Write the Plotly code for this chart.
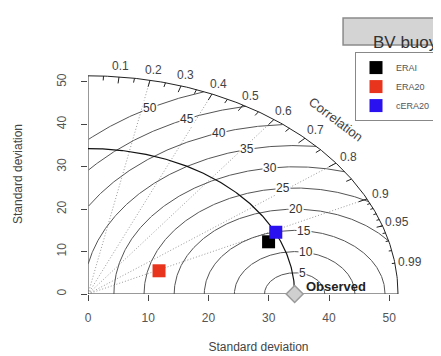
import numpy as np
import plotly.graph_objects as go

# ---- data ----
models = ["ERAI", "ERA20", "cERA20"]
model_sd = [32.4, 13.0, 34.4]
model_cor = [0.925, 0.907, 0.906]
model_colors = ["#000000", "#e8341c", "#2a12f0"]
obs_sd = 34.3
title_text = "BV buoy"
axis_ticks = [0, 10, 20, 30, 40, 50]
gamma = [5, 10, 15, 20, 25, 30, 35, 40, 45, 50]
big_ticks = [0.1, 0.2, 0.3, 0.4, 0.5, 0.6, 0.7, 0.8, 0.9]
cor_labels = [0.1, 0.2, 0.3, 0.4, 0.5, 0.6, 0.7, 0.8, 0.9, 0.95, 0.99]
med_ticks = [0.05, 0.15, 0.25, 0.35, 0.45, 0.55, 0.65, 0.75, 0.85, 0.95]
sml_ticks = [0.91, 0.92, 0.93, 0.94, 0.95, 0.96, 0.97, 0.98, 0.99]
grad_corr_lines = [0.2, 0.4, 0.6, 0.8, 0.9]

maxsd = 1.5 * max(model_sd[0], obs_sd)
maxray = maxsd
FONT = "Liberation Sans, Arial, sans-serif"

fig = go.Figure()

def add_line(x, y, color, width=1, dash=None):
    fig.add_trace(go.Scatter(x=x, y=y, mode="lines", showlegend=False, hoverinfo="skip",
                             line=dict(color=color, width=width, dash=dash)))

# correlation dotted lines
for g in grad_corr_lines:
    add_line([0, maxray * g], [0, maxray * np.sqrt(1 - g * g)], "#9a9a9a", 1, "1px,2px")

# axes segments
add_line([0, maxray], [0, 0], "#333333", 1)
add_line([0, 0], [0, maxray], "#333333", 1)

# centred RMS arcs
t = np.linspace(0, np.pi, 600)
labelpos = np.linspace(45, 70, len(gamma))
for i, g in enumerate(gamma):
    xc = np.cos(t) * g + obs_sd
    yc = np.sin(t) * g
    m = (xc >= 0) & (xc * xc + yc * yc <= maxray * maxray)
    add_line(xc[m], yc[m], "#555555", 1)
    ang = (int(labelpos[i]) - 1) * 0.03
    lx = np.cos(ang) * g + obs_sd
    ly = np.sin(ang) * g
    if lx > 0:
        fig.add_annotation(x=lx, y=ly, text=str(g), showarrow=False, bgcolor="white",
                           font=dict(family=FONT, size=12, color="#333"), borderpad=0)

# outer arc
ta = np.linspace(0, np.pi / 2, 200)
add_line(np.cos(ta) * maxray, np.sin(ta) * maxray, "#222222", 1)
# reference sd arc
add_line(np.cos(ta) * obs_sd, np.sin(ta) * obs_sd, "#111111", 1.2)

# ticks on outer arc
for vals, f in [(big_ticks, 0.97), (med_ticks, 0.98), (sml_ticks, 0.99)]:
    xs, ys = [], []
    for c in vals:
        a = np.arccos(c)
        xs += [np.cos(a) * maxray, np.cos(a) * f * maxray, None]
        ys += [np.sin(a) * maxray, np.sin(a) * f * maxray, None]
    add_line(xs, ys, "#222222", 1)

for c in cor_labels:
    a = np.arccos(c)
    fig.add_annotation(x=np.cos(a) * 1.05 * maxray, y=np.sin(a) * 1.05 * maxray, text=str(c),
                       showarrow=False, font=dict(family=FONT, size=12, color="#444"))

fig.add_annotation(x=0.8 * maxsd, y=0.8 * maxsd, text="Correlation", textangle=37, showarrow=False,
                   font=dict(family=FONT, size=13, color="#444"))

# observed point
fig.add_trace(go.Scatter(x=[obs_sd], y=[0], mode="markers", showlegend=False, hoverinfo="skip",
                         cliponaxis=False,
                         marker=dict(symbol="diamond", size=13, color="#cfcfcf",
                                     line=dict(color="#9a9a9a", width=1.5))))
fig.add_annotation(x=obs_sd + 1.6, y=1.7, text="<b>Observed</b>", xanchor="left", showarrow=False,
                   font=dict(family=FONT, size=13, color="#222"))

# models
for name, sd, r, col in zip(models, model_sd, model_cor, model_colors):
    fig.add_trace(go.Scatter(x=[sd * r], y=[sd * np.sqrt(1 - r * r)], mode="markers", name=name,
                             marker=dict(symbol="square", size=13, color=col)))

# title box
fig.add_shape(type="rect", xref="paper", yref="paper", x0=0.748, x1=1.1, y0=1.0375, y1=1.15,
              fillcolor="#d4d4d4", line=dict(color="#8a8a8a", width=1.5))
fig.add_annotation(xref="paper", yref="paper", x=0.83, y=1.094, text=title_text, xanchor="left",
                   showarrow=False, font=dict(family=FONT, size=17, color="#333"))

fig.update_layout(
    width=433, height=348,
    margin=dict(l=80, r=12, t=46, b=62, autoexpand=False),
    plot_bgcolor="white", paper_bgcolor="white",
    font=dict(family=FONT, size=12, color="#444"),
    showlegend=True,
    legend=dict(x=0.783, y=1.008, xanchor="left", yanchor="top", bgcolor="white",
                bordercolor="#888", borderwidth=1, font=dict(family=FONT, size=9, color="#555"),
                tracegroupgap=0, itemwidth=30),
    xaxis=dict(range=[0, 1.1 * maxsd], showgrid=False, zeroline=False, showline=False,
               automargin=False,
               tickvals=axis_ticks, ticks="outside", ticklen=6, tickcolor="#444",
               ticklabelstandoff=7, tickfont=dict(size=12, color="#555"),
               title=dict(text="Standard deviation", standoff=18, font=dict(size=12, color="#444"))),
    yaxis=dict(range=[0, 1.1 * maxsd], showgrid=False, zeroline=False, showline=False,
               automargin=False,
               tickvals=axis_ticks, ticks="outside", ticklen=6, tickcolor="#444", tickangle=-90,
               ticklabelstandoff=10, tickfont=dict(size=12, color="#555"),
               title=dict(text="Standard deviation", standoff=30, font=dict(size=12, color="#444"))),
)

fig.write_html("out.html")
